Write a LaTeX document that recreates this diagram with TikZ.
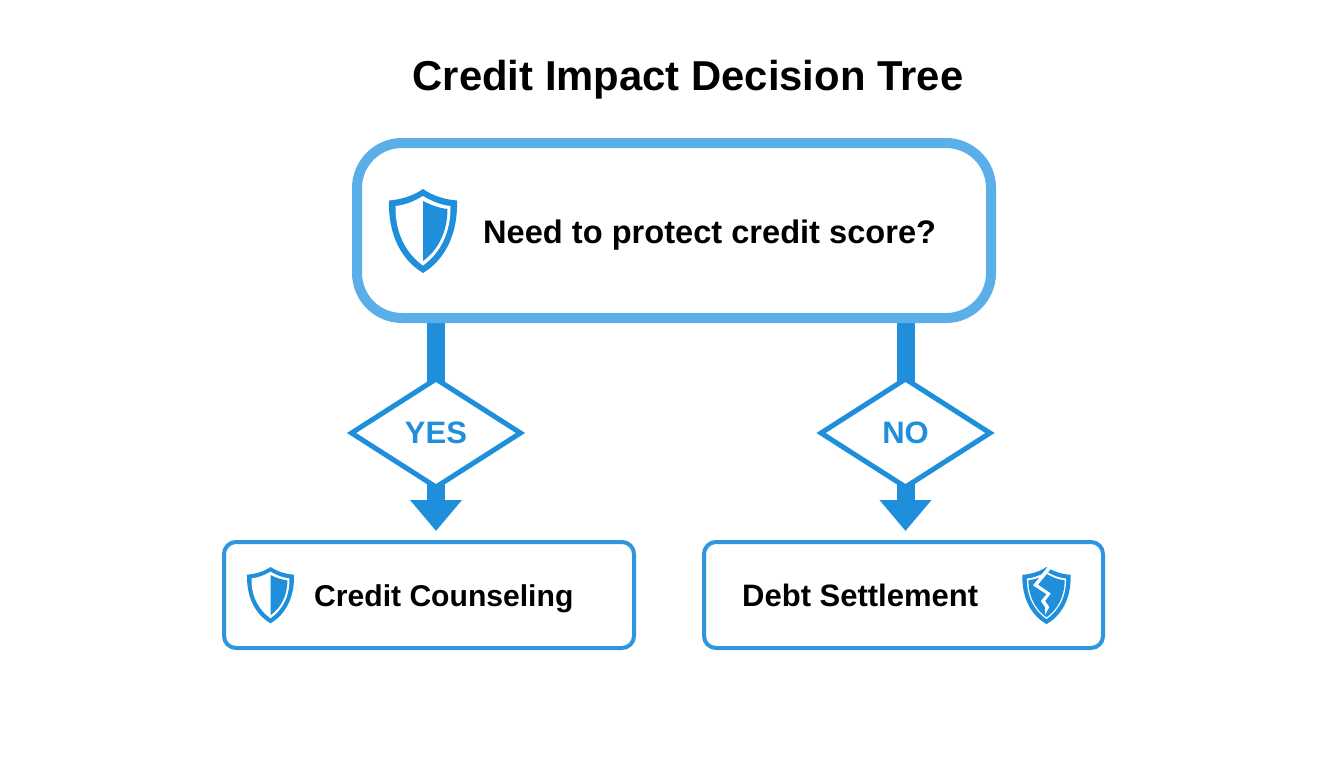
\documentclass[tikz,border=0pt]{standalone}
\usepackage{fontspec}
\setmainfont{Liberation Sans}
\usetikzlibrary{shapes.geometric,arrows.meta,backgrounds}
\definecolor{strong}{HTML}{1F8FDC}
\definecolor{soft}{HTML}{5BAFE8}
\definecolor{edge}{HTML}{2E96DE}
\newcommand{\shieldband}{%
  \fill[strong] (0,0) .. controls (10,7) and (22,10.5) .. (34,11.5) .. controls (35,48) and (20,72) .. (0,84) .. controls (-20,72) and (-35,48) .. (-34,11.5) .. controls (-22,10.5) and (-10,7) .. (0,0) -- cycle;
  \fill[white] (0,7) .. controls (9,12.5) and (18,16) .. (27.5,17) .. controls (28,45) and (16,65) .. (0,76.5) .. controls (-16,65) and (-28,45) .. (-27.5,17) .. controls (-18,16) and (-9,12.5) .. (0,7) -- cycle;
}
\tikzset{
  x=1pt,y=-1pt,
  bigbox/.style={draw=soft,line width=10pt,rounded corners=45pt,fill=white,minimum width=634pt,minimum height=175pt,inner sep=0pt},
  resultbox/.style={draw=edge,line width=4pt,rounded corners=12pt,fill=white,minimum height=106pt,inner sep=0pt},
  choice/.style={diamond,draw=strong,line width=5pt,fill=white,minimum width=171pt,minimum height=110pt,inner sep=0pt,text=strong,font=\bfseries\fontsize{31}{31}\selectfont},
  stem/.style={draw=strong,line width=18pt},
  flow/.style={stem,-{Triangle[length=31pt,width=50pt]}},
  label/.style={inner sep=0pt,anchor=base west,text=black},
  halfshield/.pic={
    \shieldband
    \fill[strong] (0,12) .. controls (8,16) and (16,19) .. (24.5,20) .. controls (24.5,44) and (14,62) .. (0,72) -- cycle;
  },
  brokenshield/.pic={
    \shieldband
    \fill[strong] (0,10) .. controls (8,15) and (16,18.5) .. (25.5,19.5) .. controls (25.5,44) and (15,63) .. (0,74) .. controls (-15,63) and (-25.5,44) .. (-25.5,19.5) .. controls (-16,18.5) and (-8,15) .. (0,10) -- cycle;
    \fill[white] (10,-2) -- (-12,26) -- (6,39) -- (-2,50) -- (4,59) -- (-2,70) -- (-2,59) -- (-8,50) -- (0,40) -- (-19,27) -- (3,-2) -- cycle;
  }
}
\begin{document}
\begin{tikzpicture}
\useasboundingbox (0,0) rectangle (1344,768);
\node[inner sep=0pt,anchor=base,text=black,font=\bfseries\fontsize{41.8}{42}\selectfont] (title) at (688,91) {Credit Impact Decision Tree};

\node[bigbox] (main) at (674,230.5) {};
\node[label,font=\bfseries\fontsize{32.6}{33}\selectfont] (question) at (483,243) {Need to protect credit score?};
\pic at (423,189) {halfshield};

\node[choice] (yes) at (436,433) {YES};
\node[choice] (no) at (905.5,433) {NO};

\node[resultbox,minimum width=410pt] (counsel) at (429,595) {};
\node[label,font=\bfseries\fontsize{30.1}{31}\selectfont] (counseltext) at (314,606) {Credit Counseling};
\pic[xscale=0.69,yscale=0.67] at (270.5,567) {halfshield};

\node[resultbox,minimum width=399pt] (settle) at (903.5,595) {};
\node[label,font=\bfseries\fontsize{31}{31}\selectfont] (settletext) at (742,606) {Debt Settlement};
\pic[xscale=0.71,yscale=0.68] at (1046.5,567) {brokenshield};

\begin{scope}[on background layer]
\draw[stem] (yes.center |- main.south) -- (yes.center);
\draw[stem] (no.center |- main.south) -- (no.center);
\draw[flow,shorten >=9pt] (yes.center) -- (counsel.north -| yes.center);
\draw[flow,shorten >=9pt] (no.center) -- (settle.north -| no.center);
\end{scope}
\end{tikzpicture}
\end{document}
